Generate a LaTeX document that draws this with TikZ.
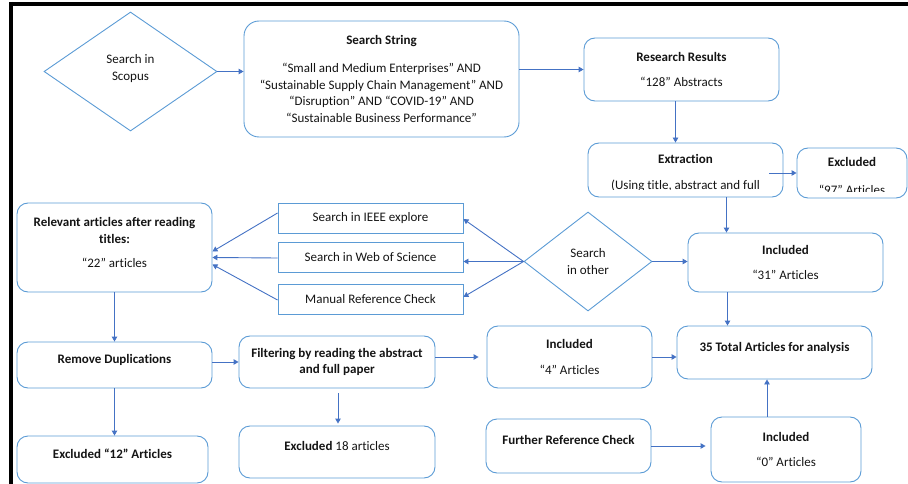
\documentclass[tikz,border=0pt]{standalone}
\usepackage{fontspec}
\setmainfont{Carlito}[Ligatures=NoCommon]
\usetikzlibrary{shapes.geometric, arrows.meta}
\definecolor{boxblue}{RGB}{91, 155, 213}
\definecolor{linkblue}{RGB}{68, 114, 196}
\definecolor{inkgray}{RGB}{20, 20, 20}
\tikzset{
  every node/.style={
    font=\fontsize{13}{16.7}\selectfont,
    text=inkgray
  },
  stagebox/.style={
    draw=boxblue,
    line width=0.9pt,
    rounded corners=11pt,
    align=center,
    inner sep=2pt
  },
  sourcebox/.style={
    draw=boxblue,
    line width=0.9pt,
    align=center,
    inner sep=2pt
  },
  decision/.style={
    diamond,
    draw=boxblue,
    line width=0.9pt,
    align=center,
    inner sep=0pt
  },
  lift/.style={
    text height=9pt,
    text depth=12pt
  },
  link/.style={
    -{Triangle[length=5pt,width=5.5pt]},
    draw=linkblue,
    line width=0.9pt
  }
}

\begin{document}
\begin{tikzpicture}[x=1pt, y=-1pt]
  \useasboundingbox (0,0) rectangle (908,484);
  % frame
  \draw[line width=4pt] (9,4) -- (908,4);
  \draw[line width=4pt] (11,2) -- (11,484);

  % top row
  \node[decision, minimum width=173pt, minimum height=119pt] (scopus) at (130.5, 71.5) {Search in\\Scopus\\[-8pt]};
  \node[stagebox, rounded corners=15pt, minimum width=275pt, minimum height=116pt] (string) at (381.5, 79)
    {\textbf{Search String}\\[11pt]
     “Small and Medium Enterprises” AND\\
     “Sustainable Supply Chain Management” AND\\
     “Disruption” AND “COVID-19” AND\\
     “Sustainable Business Performance”};
  \node[stagebox, minimum width=195pt, minimum height=63pt] (results) at (681.5, 69.5)
    {\textbf{Research Results}\\[9pt]“128” Abstracts};
  \node[stagebox, minimum width=195pt, minimum height=54pt, lift, text depth=22pt] (extract) at (685.5, 170) {\textbf{Extraction}};
  \node[stagebox, minimum width=110pt, minimum height=50pt, lift, text depth=22pt] (excluded97) at (852, 173) {\textbf{Excluded}};
  \begin{scope}
    \clip (590, 150) rectangle (782, 190);
    \node (extractnote) at (685.5, 186) {(Using title, abstract and full};
  \end{scope}
  \begin{scope}
    \clip (798, 160) rectangle (906, 192);
    \node (excluded97note) at (852, 190) {“97” Articles};
  \end{scope}

  % middle row
  \node[stagebox, minimum width=195pt, minimum height=89pt] (relevant) at (114.5, 247.5)
    {\textbf{Relevant articles after reading}\\\textbf{titles:}\\[8pt]“22” articles\\[-7pt]};
  \node[sourcebox, minimum width=185pt, minimum height=30pt] (ieee) at (370.5, 218) {Search in IEEE explore};
  \node[sourcebox, minimum width=185pt, minimum height=30pt] (wos) at (370.5, 257) {Search in Web of Science};
  \node[sourcebox, minimum width=185pt, minimum height=30pt] (manual) at (370.5, 299) {Manual Reference Check};
  \node[decision, minimum width=128pt, minimum height=99pt] (other) at (588, 261.5) {Search\\in other};
  \node[stagebox, minimum width=195pt, minimum height=59pt] (included31) at (785.5, 262.5)
    {\textbf{Included}\\[9pt]“31” Articles};

  % bottom rows
  \node[stagebox, minimum width=195pt, minimum height=46pt, lift] (remove) at (114.5, 365) {\textbf{Remove Duplications}};
  \node[stagebox, minimum width=191pt, minimum height=47pt, lift] (excluded12) at (112.5, 459.5) {\textbf{Excluded “12” Articles}};
  \node[stagebox, minimum width=196pt, minimum height=52pt] (filter) at (337, 362)
    {\textbf{Filtering by reading the abstract}\\\textbf{and full paper}};
  \node[stagebox, minimum width=196pt, minimum height=52pt, lift] (excluded18) at (337, 452) {\textbf{Excluded} 18 articles};
  \node[stagebox, minimum width=165pt, minimum height=62pt] (included4) at (569.5, 357)
    {\textbf{Included}\\[9pt]“4” Articles};
  \node[stagebox, minimum width=195pt, minimum height=53pt, lift] (total) at (774.5, 352.5) {\textbf{35 Total Articles for analysis}};
  \node[stagebox, minimum width=165pt, minimum height=54pt, lift] (further) at (568.5, 446) {\textbf{Further Reference Check}};
  \node[stagebox, minimum width=150pt, minimum height=65pt] (included0) at (786, 449.5)
    {\textbf{Included}\\[9pt]“0” Articles};

  % connectors
  \draw[link] (scopus.east) -- (scopus.east -| string.west);
  \draw[link] (string.east |- results.west) -- (results.west);
  \draw[link] ([xshift=-6pt]results.south) -- ([xshift=-6pt]results.south |- extract.north);
  \draw[link] ([xshift=-14pt]extract.east |- excluded97.west) -- (excluded97.west);
  \draw[link] ([xshift=41pt]extract.south) -- ([xshift=41pt]extract.south |- included31.north);
  \draw[link] (other.east) -- (other.east -| included31.west);
  \draw[link] (other.west) -- ([yshift=-1pt]ieee.east);
  \draw[link] (other.west) -- (other.west -| wos.east);
  \draw[link] (other.west) -- ([yshift=2pt]manual.east);
  \draw[link] ([yshift=5pt]ieee.west) -- ([yshift=-4pt]relevant.east);
  \draw[link] ([yshift=-1pt]wos.west) -- ([yshift=-10pt]relevant.east);
  \draw[link] ([yshift=-1pt]manual.west) -- ([yshift=-17pt]relevant.east);
  \draw[link] (relevant.south) -- (remove.north);
  \draw[link] (remove.south) -- (remove.south |- excluded12.north);
  \draw[link] (remove.east |- filter.west) -- (filter.west);
  \draw[link] ([xshift=1pt, yshift=-5pt]filter.south) -- ([xshift=1pt, yshift=2pt]excluded18.north);
  \draw[link] (filter.east |- included4.west) -- ([xshift=-8pt]included4.west);
  \draw[link] (included4.east) -- (included4.east -| total.west);
  \draw[link] (further.east) -- ([xshift=-5pt]included0.west |- further.east);
  \draw[link] ([xshift=-58pt]included31.south) -- ([xshift=-58pt]included31.south |- total.north);
  \draw[link] ([xshift=-19pt]included0.north) -- ([xshift=-19pt]included0.north |- total.south);
\end{tikzpicture}
\end{document}
